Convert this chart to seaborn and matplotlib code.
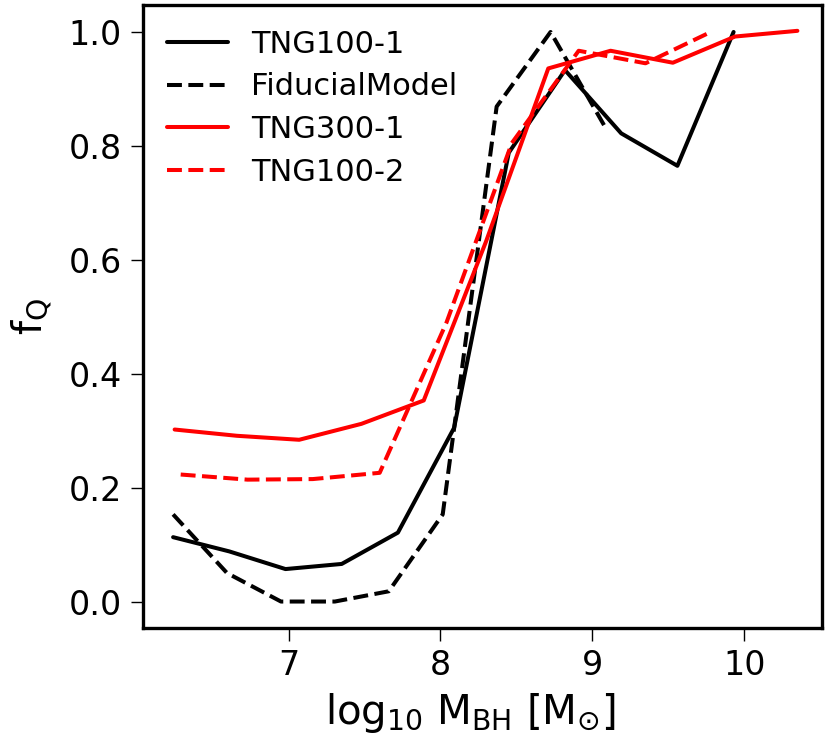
import matplotlib
matplotlib.use("Agg")
import matplotlib.pyplot as plt
import seaborn as sns
import pandas as pd

# Data
tng100_1_x = [6.24, 6.61, 6.98, 7.35, 7.72, 8.09, 8.45, 8.82, 9.19, 9.56, 9.93]
tng100_1_y = [0.113, 0.088, 0.057, 0.066, 0.121, 0.305, 0.788, 0.933, 0.822, 0.765, 1.0]

fid_x = [6.24, 6.595, 6.95, 7.305, 7.66, 8.015, 8.37, 8.725, 9.08]
fid_y = [0.153, 0.050, 0.0, 0.0, 0.018, 0.153, 0.869, 1.0, 0.835]

tng300_1_x = [6.25, 6.66, 7.07, 7.48, 7.89, 8.30, 8.71, 9.12, 9.53, 9.94, 10.35]
tng300_1_y = [0.302, 0.291, 0.284, 0.312, 0.353, 0.632, 0.936, 0.967, 0.946, 0.992, 1.002]

tng100_2_x = [6.29, 6.73, 7.16, 7.60, 8.04, 8.47, 8.91, 9.35, 9.78]
tng100_2_y = [0.223, 0.214, 0.215, 0.226, 0.49, 0.805, 0.967, 0.945, 1.0]

series = [
    ("TNG100-1", tng100_1_x, tng100_1_y, "black", "-"),
    ("FiducialModel", fid_x, fid_y, "black", "--"),
    ("TNG300-1", tng300_1_x, tng300_1_y, "red", "-"),
    ("TNG100-2", tng100_2_x, tng100_2_y, "red", "--"),
]

sns.set_theme(style="ticks")
plt.rcParams["font.family"] = ["DejaVu Sans"]
plt.rcParams["mathtext.default"] = "regular"

fig = plt.figure(figsize=(8.25, 7.42), dpi=100)
ax = fig.add_axes([0.173, 0.154, 0.823, 0.839])

for name, xs, ys, col, ls in series:
    df = pd.DataFrame({"x": xs, "y": ys})
    sns.lineplot(data=df, x="x", y="y", ax=ax, color=col, linestyle=ls,
                 linewidth=2.9, sort=False, label=name, estimator=None)

ax.set_xlim(6.04, 10.51)
ax.set_ylim(-0.046, 1.047)
ax.set_xticks([7, 8, 9, 10])
ax.set_yticks([0.0, 0.2, 0.4, 0.6, 0.8, 1.0])
ax.set_yticklabels(["0.0", "0.2", "0.4", "0.6", "0.8", "1.0"])
ax.tick_params(axis="both", labelsize=24, width=1.0, length=9, pad=6,
               color="black", labelcolor="black")
for sp in ax.spines.values():
    sp.set_visible(True)
    sp.set_linewidth(2.4)
    sp.set_color("black")

ax.set_xlabel(r"log$_{10}$ M$_{BH}$ [M$_{\odot}$]", fontsize=29, color="black")
ax.xaxis.set_label_coords(0.482, -0.102, transform=ax.transAxes)
ax.xaxis.label.set_verticalalignment("top")
ax.set_ylabel(r"f$_{Q}$", fontsize=29, color="black", labelpad=10)

leg = ax.legend(loc="upper left", frameon=False, fontsize=22, handlelength=2.0,
                handletextpad=0.75, labelspacing=0.45, borderaxespad=0.4)
for t in leg.get_texts():
    t.set_color("black")

fig.savefig("out.png", dpi=100)
